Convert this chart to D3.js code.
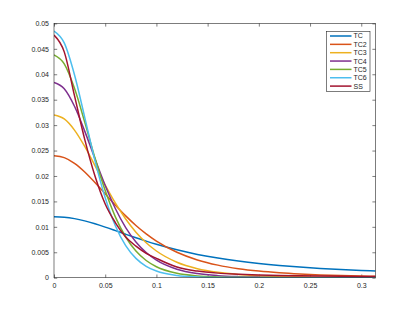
<!DOCTYPE html>
<html>
<head>
<meta charset="utf-8">
<script src="https://cdn.jsdelivr.net/npm/d3@7"></script>
<style>
  body { margin: 0; background: #fff; }
  svg { display: block; font-family: "Liberation Sans", Arial, sans-serif; }
</style>
</head>
<body>
<div id="chart"></div>
<script>
// sample positions along x (same for every series)
const xs = [0, 0.01, 0.02, 0.03, 0.04, 0.05, 0.06, 0.07, 0.08, 0.09, 0.10,
            0.12, 0.14, 0.16, 0.18, 0.20, 0.22, 0.24, 0.26, 0.28, 0.30, 0.314];

const tc  = [0.0120, 0.011902, 0.011616, 0.011169, 0.010598, 0.009945, 0.009248, 0.008541, 0.007849, 0.007188, 0.006570,
             0.005479, 0.004580, 0.003851, 0.003263, 0.002787, 0.002400, 0.002083, 0.001822, 0.001604, 0.001422, 0.001312];
const tc2 = [0.0240, 0.023608, 0.022489, 0.020792, 0.018721, 0.016484, 0.014256, 0.012158, 0.010267, 0.008612, 0.007195,
             0.005004, 0.003497, 0.002472, 0.001774, 0.001295, 0.000960, 0.000723, 0.000553, 0.000429, 0.000337, 0.000287];
const tc3 = [0.0320, 0.031220, 0.029025, 0.025803, 0.022047, 0.018216, 0.014649, 0.011539, 0.008953, 0.006878, 0.005252,
             0.003046, 0.001780, 0.001058, 0.000643, 0.000401, 0.000256, 0.000167, 0.000112, 0.000077, 0.000053, 0.000042];
const tc4 = [0.0384, 0.037156, 0.033716, 0.028820, 0.023366, 0.018116, 0.013548, 0.009855, 0.007027, 0.004944, 0.003451,
             0.001669, 0.000815, 0.000407, 0.000210, 0.000112, 0.000061, 0.000035, 0.000020, 0.000012, 0.000008, 0.000006];
const tc5 = [0.0438, 0.042034, 0.037226, 0.030597, 0.023540, 0.017125, 0.011910, 0.008001, 0.005243, 0.003378, 0.002155,
             0.000869, 0.000355, 0.000149, 0.000065, 0.000030, 0.000014, 0.000007, 0.000003, 0.000002, 0.000001, 0.000001];
const tc6 = [0.0485, 0.046163, 0.039902, 0.031535, 0.023021, 0.015716, 0.010164, 0.006306, 0.003797, 0.002241, 0.001306,
             0.000440, 0.000150, 0.000053, 0.000020, 0.000008, 0.000003, 0.000001, 0, 0, 0, 0];
const ss  = [0.0477, 0.0444, 0.0358, 0.0272, 0.0200, 0.0145, 0.0108, 0.0080, 0.0062, 0.0048, 0.0038,
             0.0021, 0.0013, 0.0009, 0.0007, 0.00055, 0.00045, 0.00038, 0.00032, 0.00028, 0.00025, 0.00023];

const names  = ["TC", "TC2", "TC3", "TC4", "TC5", "TC6", "SS"];
const colors = ["#0072BD", "#D95319", "#EDB120", "#7E2F8E", "#77AC30", "#4DBEEE", "#A2142F"];
const xTicks = [0, 0.05, 0.1, 0.15, 0.2, 0.25, 0.3];
const yTicks = [0, 0.005, 0.01, 0.015, 0.02, 0.025, 0.03, 0.035, 0.04, 0.045, 0.05];

const series = [tc, tc2, tc3, tc4, tc5, tc6, ss].map((ys, i) => ({
  name: names[i], color: colors[i], points: xs.map((x, j) => [x, ys[j]])
}));

const width = 415, height = 312;
const plotL = 54, plotR = 375.6, plotT = 23.4, plotB = 277.7;

const svg = d3.select("#chart").append("svg")
  .attr("width", width).attr("height", height);

const x = d3.scaleLinear().domain([0, 0.314]).range([plotL, plotR]);
const y = d3.scaleLinear().domain([0, 0.05]).range([plotB, plotT]);

svg.append("clipPath").attr("id", "clip")
  .append("rect").attr("x", plotL).attr("y", plotT)
  .attr("width", plotR - plotL).attr("height", plotB - plotT);

const fmt = d => d === 0 ? "0" : d3.format("~g")(d);
const axisColor = "#262626";

function styleAxis(g) {
  g.select(".domain").remove();
  g.selectAll("line").attr("stroke", axisColor).attr("stroke-width", 0.6);
  g.selectAll("text").attr("fill", axisColor).style("font-size", "7px");
}

svg.append("g").attr("transform", `translate(0,${plotB})`)
  .call(d3.axisBottom(x).tickValues(xTicks).tickSize(-3.2).tickPadding(5.5).tickFormat(fmt))
  .call(styleAxis);
svg.append("g").attr("transform", `translate(0,${plotT})`)
  .call(d3.axisTop(x).tickValues(xTicks).tickSize(-3.2).tickFormat(""))
  .call(styleAxis);
svg.append("g").attr("transform", `translate(${plotL},0)`)
  .call(d3.axisLeft(y).tickValues(yTicks).tickSize(-3.2).tickPadding(5).tickFormat(fmt))
  .call(styleAxis);
svg.append("g").attr("transform", `translate(${plotR},0)`)
  .call(d3.axisRight(y).tickValues(yTicks).tickSize(-3.2).tickFormat(""))
  .call(styleAxis);

const line = d3.line()
  .x(d => x(d[0])).y(d => y(d[1]))
  .curve(d3.curveMonotoneX);

svg.append("g").attr("clip-path", "url(#clip)")
  .selectAll("path").data(series).join("path")
  .attr("d", d => line(d.points))
  .attr("fill", "none")
  .attr("stroke", d => d.color)
  .attr("stroke-width", 1.5);

// axes box
svg.append("rect")
  .attr("x", plotL).attr("y", plotT)
  .attr("width", plotR - plotL).attr("height", plotB - plotT)
  .attr("fill", "none").attr("stroke", axisColor).attr("stroke-width", 0.6);

// legend
const lg = svg.append("g");
const lgX = 326.5, lgY = 31.5, rowH = 8.35;
lg.append("rect")
  .attr("x", lgX).attr("y", lgY).attr("width", 43.5).attr("height", 60)
  .attr("fill", "#fff").attr("stroke", axisColor).attr("stroke-width", 0.6);
const rows = lg.selectAll("g.item").data(series).join("g")
  .attr("class", "item")
  .attr("transform", (d, i) => `translate(${lgX},${lgY + 4.5 + i * rowH})`);
rows.append("line")
  .attr("x1", 3.5).attr("x2", 25).attr("y1", 0).attr("y2", 0)
  .attr("stroke", d => d.color).attr("stroke-width", 1.5);
rows.append("text")
  .attr("x", 27).attr("y", 0).attr("dy", "0.35em")
  .attr("fill", axisColor).style("font-size", "7px")
  .text(d => d.name);
</script>
</body>
</html>
